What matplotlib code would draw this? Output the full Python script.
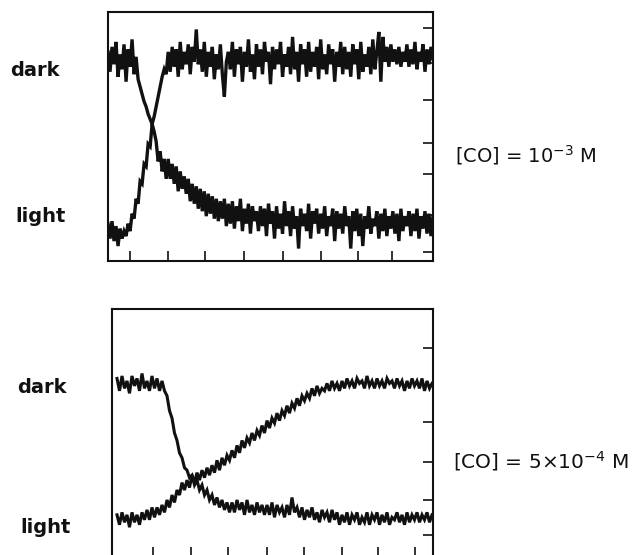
import numpy as np
import matplotlib
matplotlib.use("Agg")
import matplotlib.pyplot as plt

# Traces (signal in 0-100 units of panel height)
# upper panel, [CO] = 1e-3 M
dark_top = [84, 76, 86, 79, 88, 74, 83, 77, 87, 72, 85, 78, 89, 75, 82,
            73, 70, 67, 64, 62, 59, 57, 55, 58, 62, 66, 70, 74, 77, 75,
            84, 76, 86, 78, 85, 74, 88, 77, 84, 79, 87, 75, 86, 80, 93,
            79, 85, 76, 88, 74, 84, 78, 86, 73, 83, 77, 87, 75, 66, 80,
            84, 77, 88, 74, 85, 79, 86, 72, 84, 78, 89, 76, 83, 73, 87,
            78, 85, 75, 88, 80, 84, 71, 86, 77, 85, 79, 88, 74, 83, 78,
            86, 75, 90, 77, 84, 72, 87, 79, 85, 74, 88, 76, 84, 78, 86,
            73, 89, 77, 83, 75, 87, 79, 85, 72, 84, 78, 88, 75, 86, 77,
            84, 74, 87, 79, 85, 73, 88, 76, 83, 78, 86, 75, 89, 77, 84,
            92, 72, 90, 80, 86, 78, 87, 80, 85, 79, 86, 78, 84, 80, 87,
            78, 85, 79, 88, 77, 84, 80, 87, 76, 85, 79, 86, 81]
light_top = [15, 9, 16, 8, 14, 6, 13, 9, 12, 10, 15, 12, 19, 17, 25,
             23, 32, 31, 39, 38, 47, 46, 55, 52, 48, 40, 44, 36, 41, 33,
             41, 33, 39, 31, 38, 28, 36, 29, 34, 27, 33, 24, 31, 23, 30,
             21, 29, 20, 28, 18, 27, 19, 26, 17, 25, 16, 24, 17, 25, 14,
             23, 15, 24, 13, 22, 16, 25, 12, 21, 15, 23, 11, 22, 16, 20,
             12, 22, 14, 21, 10, 23, 15, 20, 9, 22, 13, 19, 11, 24, 14,
             20, 10, 22, 13, 18, 5, 21, 14, 19, 12, 23, 9, 20, 15, 21,
             11, 19, 13, 22, 10, 18, 14, 21, 8, 20, 13, 19, 11, 22, 14,
             18, 5, 20, 12, 21, 10, 19, 6, 18, 13, 22, 11, 17, 14, 20,
             9, 19, 12, 21, 10, 18, 13, 20, 11, 19, 8, 21, 12, 18, 14,
             20, 10, 19, 12, 21, 9, 18, 13, 20, 11, 19, 10, 18]

# lower panel, [CO] = 5e-4 M
dark_bot = [72, 67, 73, 68, 71, 66, 73, 69, 72, 67, 74, 68, 71, 67, 73,
            68, 72, 67, 71, 67, 65, 59, 56, 50, 47, 42, 40, 36, 35, 32,
            33, 29, 31, 27, 29, 25, 27, 23, 25, 21, 24, 20, 23, 19, 22,
            18, 22, 18, 23, 19, 22, 17, 23, 18, 21, 17, 22, 18, 21, 17,
            21, 17, 22, 16, 21, 18, 20, 16, 21, 17, 24, 18, 20, 16, 20,
            15, 19, 16, 20, 15, 18, 14, 19, 16, 18, 14, 19, 15, 18, 13,
            17, 14, 18, 13, 17, 15, 18, 13, 16, 14, 18, 13, 17, 15, 18,
            13, 17, 14, 18, 13, 16, 15, 18, 14, 17, 13, 18, 14, 17, 15,
            18, 14, 17, 15, 18, 14, 17]
light_bot = [17, 13, 18, 14, 17, 12, 18, 14, 17, 13, 18, 15, 19, 15, 20,
             16, 20, 17, 21, 18, 23, 20, 25, 22, 27, 25, 30, 27, 31, 28,
             33, 30, 34, 31, 35, 32, 36, 33, 37, 34, 39, 35, 40, 37, 41,
             39, 43, 40, 45, 42, 47, 44, 48, 46, 50, 47, 51, 49, 53, 50,
             55, 52, 56, 54, 58, 55, 59, 57, 61, 58, 62, 60, 64, 61, 65,
             63, 66, 64, 68, 65, 69, 66, 68, 67, 70, 67, 71, 68, 70, 67,
             71, 68, 72, 69, 71, 68, 72, 70, 71, 68, 73, 69, 71, 68, 72,
             69, 71, 68, 72, 70, 71, 68, 72, 69, 71, 67, 71, 68, 72, 69,
             71, 68, 72, 67, 71, 68, 70]

labels = ["dark", "light"]
conc_top = r"$\left[\mathrm{CO}\right]$ = 10$^{-3}$ M"
conc_bot = r"$\left[\mathrm{CO}\right]$ = 5×10$^{-4}$ M"

W, H = 635, 555
fig = plt.figure(figsize=(W / 100, H / 100), dpi=100)
ink = "#111111"


def setup(ax, width, xticks, yticks):
    ax.set_xlim(0, width)
    ax.set_ylim(0, 100)
    ax.set_xticks(xticks)
    ax.set_yticks(yticks)
    ax.yaxis.tick_right()
    ax.tick_params(direction="in", length=7, width=1.2, color=ink,
                   labelbottom=False, labelright=False)
    for s in ax.spines.values():
        s.set_linewidth(1.5)
        s.set_color(ink)


# top panel
ax1 = fig.add_axes([108 / W, 1 - 261 / H, 325 / W, 249 / H])
t1 = np.linspace(0, 325, len(dark_top))
t2 = np.linspace(0, 325, len(light_top))
ax1.plot(t1, dark_top, color=ink, lw=2.4, solid_joinstyle="miter")
ax1.plot(t2, light_top, color=ink, lw=2.4, solid_joinstyle="miter")
setup(ax1, 325, [22, 60, 97, 136, 175, 213, 250, 284],
      [93.6, 79.5, 64.7, 47.4, 34.9, 18.5, 3.6])

# bottom panel
ax2 = fig.add_axes([112 / W, 1 - 557 / H, 321 / W, 248 / H])
t3 = np.linspace(5, 320, len(dark_bot))
t4 = np.linspace(5, 320, len(light_bot))
ax2.plot(t3, dark_bot, color=ink, lw=2.2, solid_joinstyle="miter")
ax2.plot(t4, light_bot, color=ink, lw=2.2, solid_joinstyle="miter")
setup(ax2, 321, [41, 79, 116, 155, 192, 230, 266, 303],
      [84.3, 69.4, 54.4, 38.3, 23.0, 8.9])

# side labels
lab = dict(fontsize=14, fontweight="bold", color=ink, va="baseline")
fig.text(10 / W, 1 - 76 / H, labels[0], **lab)
fig.text(15 / W, 1 - 222 / H, labels[1], **lab)
fig.text(17 / W, 1 - 393 / H, labels[0], **lab)
fig.text(20 / W, 1 - 533 / H, labels[1], **lab)

fig.text(455 / W, 1 - 155 / H, conc_top, fontsize=14, color=ink, va="center")
fig.text(453 / W, 1 - 461 / H, conc_bot, fontsize=14.5, color=ink, va="center")

fig.savefig("out.png", dpi=100, facecolor="white")
